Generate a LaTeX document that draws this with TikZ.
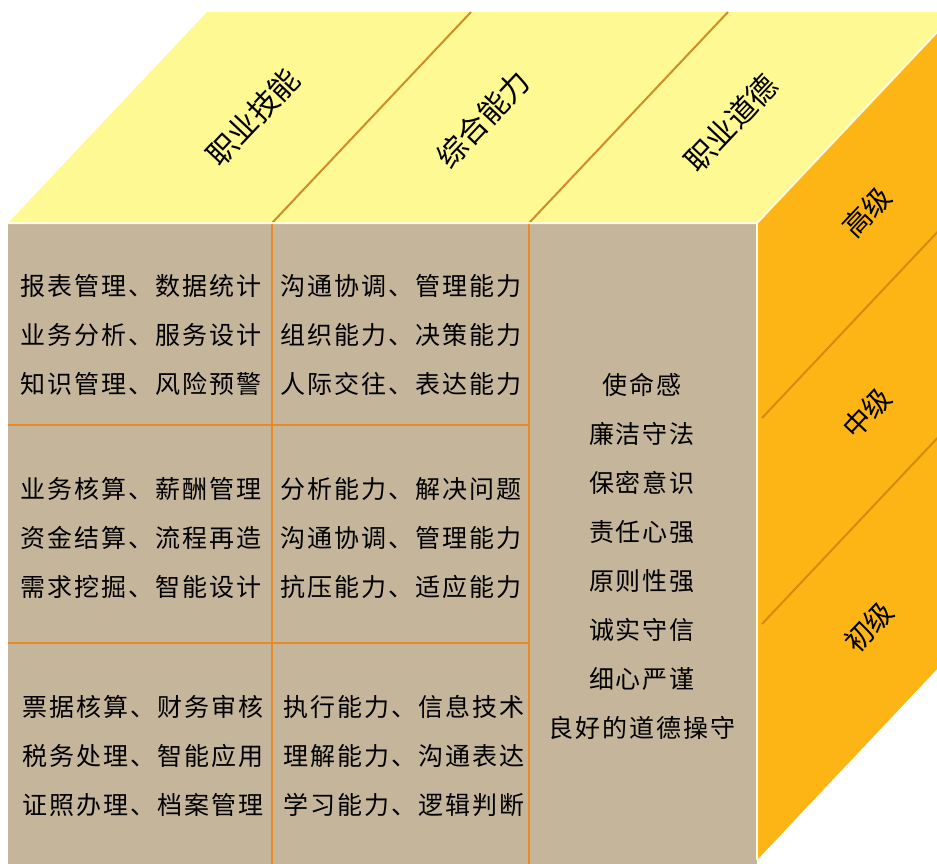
\documentclass[tikz,border=0pt]{standalone}
\usepackage{fontspec}
\newfontfamily\cjk{Noto Sans CJK SC}
\newfontfamily\cjkwide{Noto Sans CJK SC}[LetterSpace=8]
\usetikzlibrary{calc}
\definecolor{frontface}{HTML}{C4B59B}
\definecolor{topface}{HTML}{FFF993}
\definecolor{sideface}{HTML}{FDB515}
\definecolor{frontline}{HTML}{E98A24}
\definecolor{topline}{HTML}{D08C28}
\definecolor{sideline}{HTML}{D48C10}
\definecolor{edgeline}{HTML}{FFFBE0}
\tikzset{
	celltext/.style={font=\cjkwide\fontsize{25}{49}\selectfont, align=center, inner sep=0pt, text=black},
	toplabel/.style={font=\cjk\fontsize{30}{36}\selectfont, rotate=46.7, inner sep=0pt},
	sidelabel/.style={font=\cjk\fontsize{28}{34}\selectfont, rotate=46.7, inner sep=0pt}
}
\begin{document}
\begin{tikzpicture}[x=1pt,y=-1pt]
	\useasboundingbox (0,0) rectangle (937,863);
	\clip (0,0) rectangle (937,863);
	\coordinate (ftl) at (8,223);
	\coordinate (ftr) at (757,223);
	\coordinate (fbl) at (8,870);
	\coordinate (fbr) at (757,860);
	\coordinate (depth) at (199,-211);
	\coordinate (colA) at (272,223);
	\coordinate (colB) at (529,223);
	\fill[frontface] (ftl) rectangle (757,870);
	\fill[topface] (ftl) -- (ftr) -- ($(ftr)+(depth)$) -- ($(ftl)+(depth)$) -- cycle;
	\fill[sideface] (ftr) -- ($(ftr)+(depth)$) -- ($(fbr)+(depth)$) -- (fbr) -- cycle;
	\draw[frontline, line width=2.5pt] (colA) -- (272,870);
	\draw[frontline, line width=2.5pt] (colB) -- (529,870);
	\draw[frontline, line width=2.5pt] (8,425) -- (529,425);
	\draw[frontline, line width=2.5pt] (8,643) -- (529,643);
	\draw[topline, line width=2pt] (colA) -- ($(colA)+(depth)$);
	\draw[topline, line width=2pt] (colB) -- ($(colB)+(depth)$);
	\draw[sideline, line width=2pt] (762,418) -- ($(762,418)+(depth)$);
	\draw[sideline, line width=2pt] (762,624) -- ($(762,624)+(depth)$);
	\draw[edgeline, line width=2pt] (ftl) -- (ftr) -- ($(ftr)+(depth)$);
	\draw[edgeline, line width=1.5pt] (ftr) -- (fbr);
	\node[toplabel] (skill) at (253,117) {职业技能};
	\node[toplabel] (ability) at (483,119) {综合能力};
	\node[toplabel] (ethic) at (731,123) {职业道德};
	\node[sidelabel] (senior) at (867,212) {高级};
	\node[sidelabel] (middle) at (867,413) {中级};
	\node[sidelabel] (junior) at (869,627) {初级};
	\node[celltext] (skillA) at (141,335) {报表管理、数据统计\\业务分析、服务设计\\知识管理、风险预警};
	\node[celltext] (skillB) at (141,538) {业务核算、薪酬管理\\资金结算、流程再造\\需求挖掘、智能设计};
	\node[celltext] (skillC) at (143,756) {票据核算、财务审核\\税务处理、智能应用\\证照办理、档案管理};
	\node[celltext] (abilityA) at (401,335) {沟通协调、管理能力\\组织能力、决策能力\\人际交往、表达能力};
	\node[celltext] (abilityB) at (401,538) {分析能力、解决问题\\沟通协调、管理能力\\抗压能力、适应能力};
	\node[celltext] (abilityC) at (404,756) {执行能力、信息技术\\理解能力、沟通表达\\学习能力、逻辑判断};
	\node[celltext] (ethicA) at (642,556) {使命感\\廉洁守法\\保密意识\\责任心强\\原则性强\\诚实守信\\细心严谨\\良好的道德操守};
\end{tikzpicture}
\end{document}
